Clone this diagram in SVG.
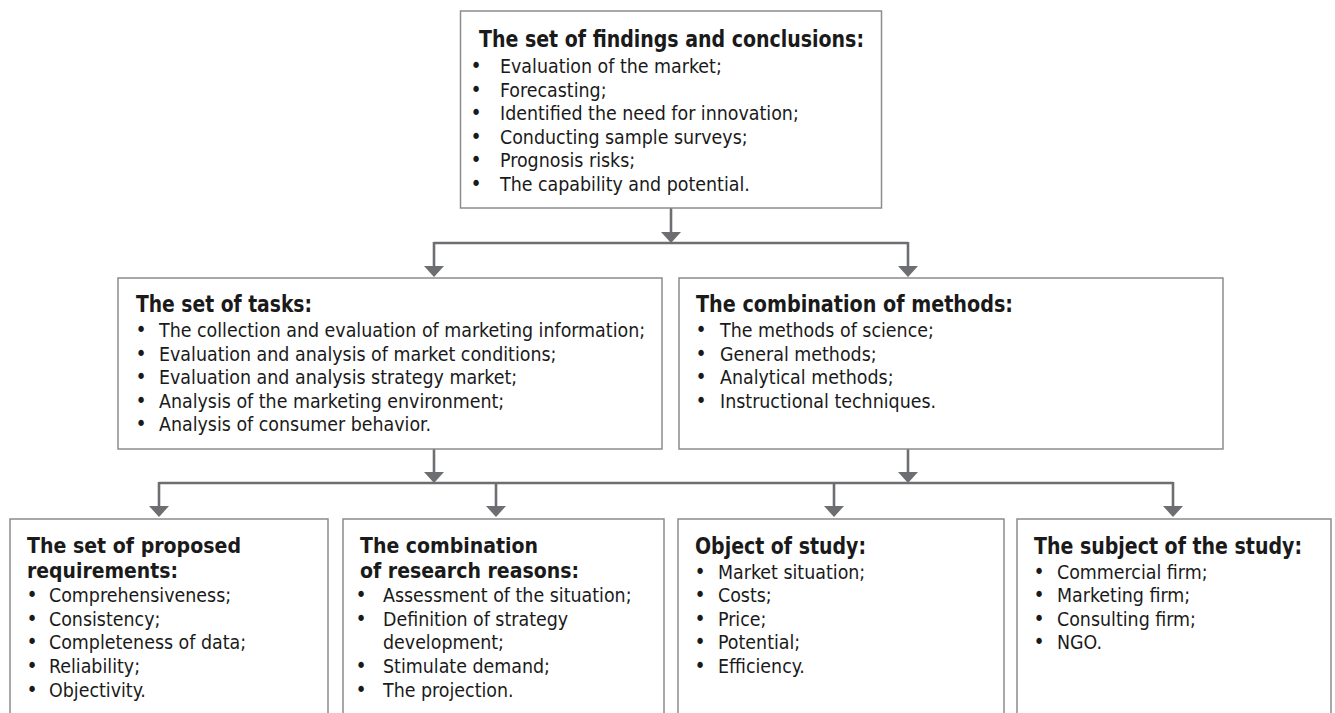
<svg xmlns="http://www.w3.org/2000/svg" width="1335" height="713" viewBox="0 0 1335 713">
<defs>
<marker id="ah" viewBox="0 0 11 20" refX="8" refY="10" markerWidth="11" markerHeight="20" orient="auto" markerUnits="userSpaceOnUse">
<path d="M0,0 L11,10 L0,20 z" fill="#6d6e71"/>
</marker>
<style>
.box{fill:#fff;stroke:#8c8c8c;stroke-width:1.5}
.t{font-family:"DejaVu Sans Condensed","DejaVu Sans",sans-serif;fill:#1a1a1a}
.h{font-size:23px;font-weight:bold}
.h2{font-size:21px;font-weight:bold}
.b{font-size:19.4px}
.d{font-size:21px;text-anchor:middle}
.c{fill:none;stroke:#6d6e71;stroke-width:2.6}
</style>
</defs>
<rect width="1335" height="713" fill="#fff"/>
<g id="connectors">
<path class="c" d="M671,208 V240" marker-end="url(#ah)"/>
<path class="c" d="M434,243 H908"/>
<path class="c" d="M434,242 V274" marker-end="url(#ah)"/>
<path class="c" d="M908,242 V274" marker-end="url(#ah)"/>
<path class="c" d="M434,449 V480" marker-end="url(#ah)"/>
<path class="c" d="M908,449 V480" marker-end="url(#ah)"/>
<path class="c" d="M159,483 H1173"/>
<path class="c" d="M159,482 V514" marker-end="url(#ah)"/>
<path class="c" d="M496,482 V514" marker-end="url(#ah)"/>
<path class="c" d="M834,482 V514" marker-end="url(#ah)"/>
<path class="c" d="M1173,482 V514" marker-end="url(#ah)"/>
</g>
<g id="findings">
<rect class="box" x="460.5" y="11" width="421" height="197"/>
<text class="t h" x="479" y="47" textLength="385" lengthAdjust="spacingAndGlyphs">The set of findings and conclusions:</text>
<text class="t d" x="476" y="73">•</text><text class="t b" x="500" y="73">Evaluation of the market;</text>
<text class="t d" x="476" y="96.6">•</text><text class="t b" x="500" y="96.6">Forecasting;</text>
<text class="t d" x="476" y="120.2">•</text><text class="t b" x="500" y="120.2">Identified the need for innovation;</text>
<text class="t d" x="476" y="143.8">•</text><text class="t b" x="500" y="143.8">Conducting sample surveys;</text>
<text class="t d" x="476" y="167.4">•</text><text class="t b" x="500" y="167.4">Prognosis risks;</text>
<text class="t d" x="476" y="191">•</text><text class="t b" x="500" y="191">The capability and potential.</text>
</g>
<g id="tasks">
<rect class="box" x="118" y="278" width="544" height="171"/>
<text class="t h" x="136" y="312" textLength="176" lengthAdjust="spacingAndGlyphs">The set of tasks:</text>
<text class="t d" x="141" y="337">•</text><text class="t b" x="159" y="337">The collection and evaluation of marketing information;</text>
<text class="t d" x="141" y="360.6">•</text><text class="t b" x="159" y="360.6">Evaluation and analysis of market conditions;</text>
<text class="t d" x="141" y="384.2">•</text><text class="t b" x="159" y="384.2">Evaluation and analysis strategy market;</text>
<text class="t d" x="141" y="407.8">•</text><text class="t b" x="159" y="407.8">Analysis of the marketing environment;</text>
<text class="t d" x="141" y="431.4">•</text><text class="t b" x="159" y="431.4">Analysis of consumer behavior.</text>
</g>
<g id="methods">
<rect class="box" x="679" y="278" width="544" height="171"/>
<text class="t h" x="696" y="312" textLength="317" lengthAdjust="spacingAndGlyphs">The combination of methods:</text>
<text class="t d" x="701" y="337">•</text><text class="t b" x="720" y="337">The methods of science;</text>
<text class="t d" x="701" y="360.6">•</text><text class="t b" x="720" y="360.6">General methods;</text>
<text class="t d" x="701" y="384.2">•</text><text class="t b" x="720" y="384.2">Analytical methods;</text>
<text class="t d" x="701" y="407.8">•</text><text class="t b" x="720" y="407.8">Instructional techniques.</text>
</g>
<g id="requirements">
<rect class="box" x="10" y="519" width="318" height="210"/>
<text class="t h2" x="27" y="552.5" textLength="214" lengthAdjust="spacingAndGlyphs">The set of proposed</text>
<text class="t h2" x="27" y="577.5" textLength="151" lengthAdjust="spacingAndGlyphs">requirements:</text>
<text class="t d" x="32" y="602">•</text><text class="t b" x="49" y="602">Comprehensiveness;</text>
<text class="t d" x="32" y="625.7">•</text><text class="t b" x="49" y="625.7">Consistency;</text>
<text class="t d" x="32" y="649.4">•</text><text class="t b" x="49" y="649.4">Completeness of data;</text>
<text class="t d" x="32" y="673.1">•</text><text class="t b" x="49" y="673.1">Reliability;</text>
<text class="t d" x="32" y="696.8">•</text><text class="t b" x="49" y="696.8">Objectivity.</text>
</g>
<g id="reasons">
<rect class="box" x="343" y="519" width="321" height="210"/>
<text class="t h2" x="360" y="552.5" textLength="178" lengthAdjust="spacingAndGlyphs">The combination</text>
<text class="t h2" x="360" y="577.5" textLength="219" lengthAdjust="spacingAndGlyphs">of research reasons:</text>
<text class="t d" x="361" y="602">•</text><text class="t b" x="383" y="602">Assessment of the situation;</text>
<text class="t d" x="361" y="625.7">•</text><text class="t b" x="383" y="625.7">Definition of strategy</text>
<text class="t b" x="383" y="649.4">development;</text>
<text class="t d" x="361" y="673.1">•</text><text class="t b" x="383" y="673.1">Stimulate demand;</text>
<text class="t d" x="361" y="696.8">•</text><text class="t b" x="383" y="696.8">The projection.</text>
</g>
<g id="object">
<rect class="box" x="678" y="519" width="326" height="210"/>
<text class="t h" x="695" y="554" textLength="171" lengthAdjust="spacingAndGlyphs">Object of study:</text>
<text class="t d" x="700" y="578.5">•</text><text class="t b" x="718" y="578.5">Market situation;</text>
<text class="t d" x="700" y="602">•</text><text class="t b" x="718" y="602">Costs;</text>
<text class="t d" x="700" y="625.7">•</text><text class="t b" x="718" y="625.7">Price;</text>
<text class="t d" x="700" y="649.4">•</text><text class="t b" x="718" y="649.4">Potential;</text>
<text class="t d" x="700" y="673.1">•</text><text class="t b" x="718" y="673.1">Efficiency.</text>
</g>
<g id="subject">
<rect class="box" x="1017" y="519" width="314" height="210"/>
<text class="t h" x="1034" y="554" textLength="268" lengthAdjust="spacingAndGlyphs">The subject of the study:</text>
<text class="t d" x="1039" y="578.5">•</text><text class="t b" x="1057" y="578.5">Commercial firm;</text>
<text class="t d" x="1039" y="602">•</text><text class="t b" x="1057" y="602">Marketing firm;</text>
<text class="t d" x="1039" y="625.7">•</text><text class="t b" x="1057" y="625.7">Consulting firm;</text>
<text class="t d" x="1039" y="649.4">•</text><text class="t b" x="1057" y="649.4">NGO.</text>
</g>
</svg>
